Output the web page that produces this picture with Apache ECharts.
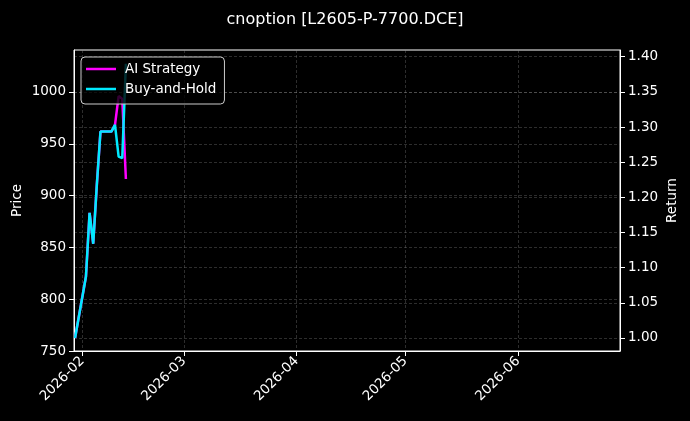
<!DOCTYPE html>
<html>
<head>
<meta charset="utf-8">
<script src="https://cdn.jsdelivr.net/npm/echarts@6/dist/echarts.min.js"></script>
<style>
html,body{margin:0;padding:0;background:#000;}
#c{width:690px;height:421px;}
</style>
</head>
<body>
<div id="c"></div>
<script>
// ---- data ----
const dates = ['2026-01-30','2026-02-02','2026-02-03','2026-02-04','2026-02-05','2026-02-06','2026-02-09','2026-02-10','2026-02-11','2026-02-12','2026-02-13'];
const aiStrategy = [1.000, 1.0875, 1.178, 1.134, 1.218, 1.2935, 1.2935, 1.303, 1.344, 1.340, 1.226];
const buyHold    = [1.000, 1.0875, 1.178, 1.134, 1.218, 1.2935, 1.2935, 1.303, 1.258, 1.2557, 1.390];
const priceTicks = [750, 800, 850, 900, 950, 1000];
const returnTicks = [1.00, 1.05, 1.10, 1.15, 1.20, 1.25, 1.30, 1.35, 1.40];
const monthTicks = ['2026-02-01','2026-03-01','2026-04-01','2026-05-01','2026-06-01'];
const priceRange = [750, 1040.5];
const returnRange = [0.9815, 1.4095];
const dateRange = ['2026-01-29 17:00', '2026-06-29 02:00'];
const titleText = 'cnoption [L2605-P-7700.DCE]';

function ts(s) {
  const [d, t] = s.split(' ');
  const [y, m, dd] = d.split('-').map(Number);
  let h = 0, mi = 0;
  if (t) { [h, mi] = t.split(':').map(Number); }
  return new Date(y, m - 1, dd, h, mi).getTime();
}
function pad(n){ return (n < 10 ? '0' : '') + n; }

const FONT = 'DejaVu Sans';
const gridLine = { show: true, lineStyle: { color: 'rgba(150,150,150,0.38)', width: 0.8, type: [3, 2] } };

const chart = echarts.init(document.getElementById('c'));
chart.setOption({
  backgroundColor: '#000',
  animation: false,
  textStyle: { fontFamily: FONT },
  title: {
    text: titleText, left: 'center', top: 7,
    textStyle: { color: '#fff', fontSize: 16, fontWeight: 'normal', fontFamily: FONT }
  },
  grid: { left: 74, right: 70, top: 50, bottom: 70, outerBoundsMode: 'none', containLabel: false,
          show: true, borderColor: '#fff', borderWidth: 1, backgroundColor: 'transparent' },
  legend: {
    left: 81, top: 57, orient: 'vertical',
    backgroundColor: 'rgba(0,0,0,0.8)', borderColor: '#cccccc', borderWidth: 1, borderRadius: 4,
    padding: [5, 8, 8, 5], itemGap: 6, itemWidth: 30, itemHeight: 2.5,
    textStyle: { color: '#fff', fontSize: 13.5, fontFamily: FONT, padding: [0, 0, 0, 4] },
    data: [{ name: 'AI Strategy', icon: 'rect' }, { name: 'Buy-and-Hold', icon: 'rect' }]
  },
  xAxis: {
    type: 'value', min: ts(dateRange[0]), max: ts(dateRange[1]),
    axisLine: { show: true, lineStyle: { color: '#fff' } },
    axisTick: { show: true, inside: false, length: 5, lineStyle: { color: '#fff' }, customValues: monthTicks.map(ts) },
    axisLabel: {
      color: '#fff', fontSize: 13.5, fontFamily: FONT, rotate: 45, margin: 8,
      customValues: monthTicks.map(ts),
      formatter: function (v) { const d = new Date(v); return d.getFullYear() + '-' + pad(d.getMonth() + 1); }
    },
    splitLine: gridLine
  },
  yAxis: [
    {
      type: 'value', position: 'left', min: priceRange[0], max: priceRange[1],
      name: 'Price', nameLocation: 'middle', nameRotate: 90, nameGap: 50, nameMoveOverlap: false,
      nameTextStyle: { color: '#fff', fontSize: 13.5, fontFamily: FONT },
      axisLine: { show: true, lineStyle: { color: '#fff' } },
      axisTick: { show: true, inside: false, length: 5, lineStyle: { color: '#fff' }, customValues: priceTicks },
      axisLabel: { color: '#fff', fontSize: 13.5, fontFamily: FONT, margin: 8, customValues: priceTicks,
        formatter: function (v) { return String(Math.round(v)); } },
      splitLine: gridLine
    },
    {
      type: 'value', position: 'right', min: returnRange[0], max: returnRange[1],
      name: 'Return', nameLocation: 'middle', nameRotate: 90, nameGap: 45, nameMoveOverlap: false,
      nameTextStyle: { color: '#fff', fontSize: 13.5, fontFamily: FONT },
      axisLine: { show: true, lineStyle: { color: '#fff' } },
      axisTick: { show: true, inside: false, length: 5, lineStyle: { color: '#fff' }, customValues: returnTicks },
      axisLabel: { color: '#fff', fontSize: 13.5, fontFamily: FONT, margin: 8, customValues: returnTicks,
        formatter: function (v) { return v.toFixed(2); } },
      splitLine: gridLine
    }
  ],
  series: [
    {
      name: 'AI Strategy', type: 'line', yAxisIndex: 1, symbol: 'none',
      data: dates.map((d, i) => [ts(d), aiStrategy[i]]),
      lineStyle: { color: '#ff00ff', width: 2.5 }, itemStyle: { color: '#ff00ff' }, z: 2
    },
    {
      name: 'Buy-and-Hold', type: 'line', yAxisIndex: 1, symbol: 'none',
      data: dates.map((d, i) => [ts(d), buyHold[i]]),
      lineStyle: { color: '#00eaff', width: 2.5 }, itemStyle: { color: '#00eaff' }, z: 3
    }
  ]
});
</script>
</body>
</html>
